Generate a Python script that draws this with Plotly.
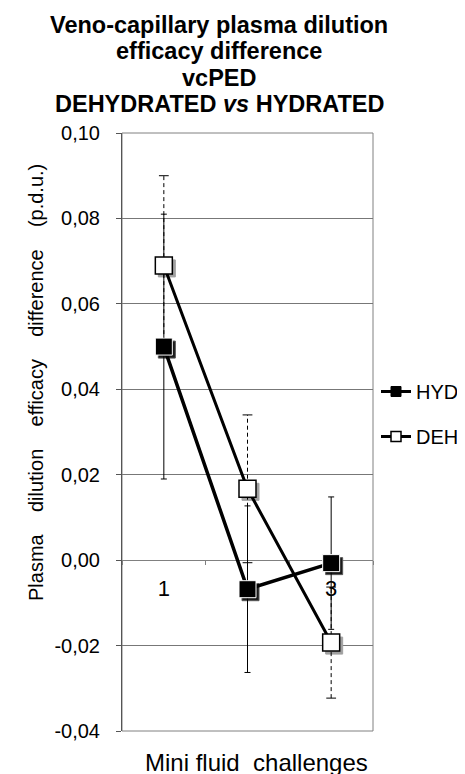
import plotly.graph_objects as go

# ---- data ----
categories = ["1", "2", "3"]
hyd = [0.050, -0.0068, -0.0007]
hyd_err = [0.031, 0.0195, 0.0155]
deh = [0.069, 0.0167, -0.0193]
deh_err = [0.021, 0.0173, 0.013]
y_ticks = [-0.04, -0.02, 0.00, 0.02, 0.04, 0.06, 0.08, 0.10]
y_ticktext = ["-0,04", "-0,02", "0,00", "0,02", "0,04", "0,06", "0,08", "0,10"]
title_lines = ["Veno-capillary plasma dilution", "efficacy difference", "vcPED",
               "DEHYDRATED <i>vs</i> HYDRATED"]
series_names = ["HYD", "DEH"]
y_title = "Plasma  dilution  efficacy  difference  (p.d.u.)"
x_title = "Mini fluid  challenges"

FONT = "Arial, Liberation Sans, sans-serif"
YR = [-0.04, 0.10]
# page has an 8px body margin: figure is sized/placed to compensate
W, H = 457, 766
ML, MT, MR, MB = 114, 125, 5, 40
PW = W - ML - MR   # 338
PH = H - MT - MB   # 601


def px(X):  # page x -> paper x
    return (X - 8 - ML) / PW


def py(Y):  # page y -> paper y
    return (H - MB - (Y - 8)) / PH


main_xd = [0, 251 / PW]
sh_xd = [3 / PW, 254 / PW]
main_yd = [3 / PH, 1]
sh_yd = [0, 1 - 3 / PH]

fig = go.Figure()

# shadow markers (subplot 2)
fig.add_trace(go.Scatter(x=categories, y=deh, mode="markers", xaxis="x2", yaxis="y2",
                         marker=dict(symbol="square", size=17, color="#a0a0a0",
                                     line=dict(color="#a0a0a0", width=1)),
                         showlegend=False, hoverinfo="skip"))
fig.add_trace(go.Scatter(x=categories, y=hyd, mode="markers", xaxis="x2", yaxis="y2",
                         marker=dict(symbol="square", size=17, color="#1a1a1a",
                                     line=dict(color="#555555", width=1)),
                         showlegend=False, hoverinfo="skip"))

# DEH dashed error bars (subplot 3)
stem_x, stem_y = [], []
for c, v, e in zip(categories, deh, deh_err):
    stem_x += [c, c, None]
    stem_y += [v - e, v + e, None]
fig.add_trace(go.Scatter(x=stem_x, y=stem_y, mode="lines", xaxis="x3", yaxis="y3",
                         line=dict(color="black", width=1, dash="4px,3px"),
                         showlegend=False, hoverinfo="skip"))
cap_x = categories + categories
cap_y = [v + e for v, e in zip(deh, deh_err)] + [v - e for v, e in zip(deh, deh_err)]
fig.add_trace(go.Scatter(x=cap_x, y=cap_y, mode="markers", xaxis="x3", yaxis="y3",
                         marker=dict(symbol="line-ew", size=7,
                                     line=dict(color="black", width=1)),
                         showlegend=False, hoverinfo="skip"))

# HYD
fig.add_trace(go.Scatter(x=categories, y=hyd, mode="lines+markers", name=series_names[0],
                         xaxis="x3", yaxis="y3", showlegend=False,
                         line=dict(color="black", width=3.5),
                         marker=dict(symbol="square", size=17, color="black",
                                     line=dict(color="white", width=1)),
                         error_y=dict(type="data", array=hyd_err, visible=True,
                                      color="black", thickness=1, width=3)))
# DEH
fig.add_trace(go.Scatter(x=categories, y=deh, mode="lines+markers", name=series_names[1],
                         xaxis="x3", yaxis="y3", showlegend=False,
                         line=dict(color="black", width=3),
                         marker=dict(symbol="square", size=17, color="white",
                                     line=dict(color="black", width=1.5))))

# legend entries (smaller symbols as in the reference legend)
fig.add_trace(go.Scatter(x=[None], y=[None], mode="lines+markers", name=series_names[0],
                         xaxis="x3", yaxis="y3", legendgroup="a",
                         line=dict(color="black", width=3),
                         marker=dict(symbol="square", size=10, color="black",
                                     line=dict(color="black", width=1))))
fig.add_trace(go.Scatter(x=[None], y=[None], mode="lines+markers", name=series_names[1],
                         xaxis="x3", yaxis="y3", legendgroup="b",
                         line=dict(color="black", width=3),
                         marker=dict(symbol="square", size=10, color="white",
                                     line=dict(color="black", width=1.5))))

# invisible trace so the grid subplot exists
fig.add_trace(go.Scatter(x=categories, y=[None, None, None], xaxis="x", yaxis="y",
                         showlegend=False, hoverinfo="skip"))

xpos = main_yd[0] + (main_yd[1] - main_yd[0]) * (0 - YR[0]) / (YR[1] - YR[0])

fig.update_layout(
    width=W, height=H,
    margin=dict(l=ML, r=MR, t=MT, b=MB, autoexpand=False),
    paper_bgcolor="white", plot_bgcolor="rgba(0,0,0,0)",
    font=dict(family=FONT, color="black", size=20),
    xaxis=dict(type="category", range=[-0.5, 2.5], domain=main_xd, anchor="free",
               position=xpos, showgrid=False, showline=True, linecolor="#808080",
               linewidth=1, ticks="outside", tickson="boundaries", ticklen=4,
               tickcolor="#808080", tickfont=dict(size=22, color="black"),
               ticklabelstandoff=8, layer="below traces", zeroline=False),
    yaxis=dict(range=YR, domain=main_yd, tickvals=y_ticks, ticktext=y_ticktext,
               showgrid=True, gridcolor="#777777", gridwidth=1, zeroline=False,
               showline=True, linecolor="#555555", linewidth=1, ticks="outside",
               ticklen=5, tickcolor="#555555", tickfont=dict(size=20),
               ticklabelstandoff=12),
    xaxis2=dict(type="category", range=[-0.5, 2.5], domain=sh_xd, anchor="y2",
                visible=False),
    yaxis2=dict(range=YR, domain=sh_yd, anchor="x2", visible=False),
    xaxis3=dict(type="category", range=[-0.5, 2.5], domain=main_xd, anchor="y3",
                visible=False),
    yaxis3=dict(range=YR, domain=main_yd, anchor="x3", visible=False),
    legend=dict(x=px(376), xanchor="left", y=py(372), yanchor="top", tracegroupgap=16,
                font=dict(size=20), itemwidth=30, bgcolor="rgba(0,0,0,0)"),
    showlegend=True,
    shapes=[dict(type="rect", xref="x domain", yref="y domain", x0=0, x1=1, y0=0, y1=1,
                 line=dict(color="#808080", width=1), layer="below")],
)

# title lines
title_y = [25, 51.5, 78, 104]
for txt, yc in zip(title_lines, title_y):
    fig.add_annotation(text="<b>" + txt + "</b>", xref="paper", yref="paper",
                       x=px(219), y=py(yc), xanchor="center",
                       yanchor="middle", showarrow=False, font=dict(size=23.5, family=FONT))

# axis titles
fig.add_annotation(text=y_title.replace("  ", "\u00a0" * 4), xref="paper", yref="paper",
                   x=px(36), y=py(383), xanchor="center",
                   yanchor="middle", textangle=-90, showarrow=False,
                   font=dict(size=20, family=FONT))
fig.add_annotation(text=x_title.replace("  ", "\u00a0\u00a0"), xref="paper", yref="paper",
                   x=px(256), y=py(762), xanchor="center",
                   yanchor="middle", showarrow=False, font=dict(size=24, family=FONT))

fig.write_html("out.html")
